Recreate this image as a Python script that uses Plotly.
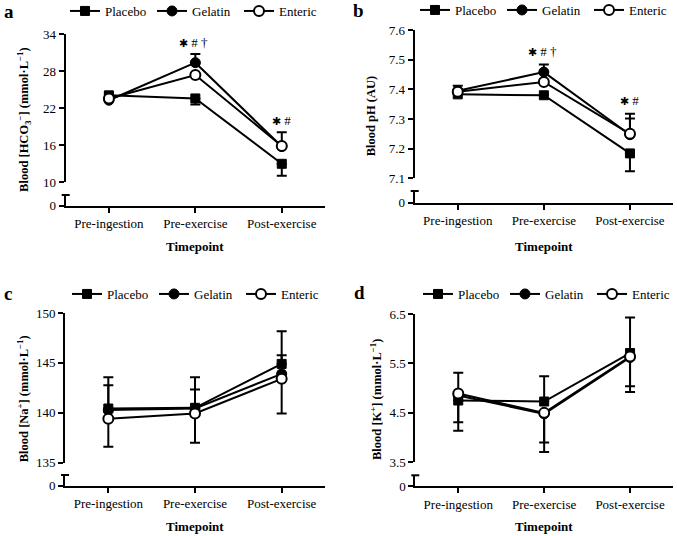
import plotly.graph_objects as go

W, H = 677, 536

timepoints = ["Pre-ingestion", "Pre-exercise", "Post-exercise"]
groups = ["Placebo", "Gelatin", "Enteric"]

# ---- Panel a: Blood [HCO3-] (mmol/L)
hco3_placebo = [24.1, 23.6, 13.0]
hco3_gelatin = [23.3, 29.4, 15.8]
hco3_enteric = [23.6, 27.4, 15.9]
hco3_placebo_up = [0.4, 0.0, 0.0]
hco3_placebo_dn = [0.0, 1.0, 1.95]
hco3_gelatin_up = [0.0, 1.4, 2.3]
hco3_gelatin_dn = [0.0, 0.0, 0.0]
hco3_enteric_up = [0.0, 0.0, 0.0]
hco3_enteric_dn = [0.0, 0.0, 0.0]

# ---- Panel b: Blood pH (AU)
ph_placebo = [7.383, 7.380, 7.184]
ph_gelatin = [7.395, 7.458, 7.247]
ph_enteric = [7.392, 7.425, 7.250]
ph_placebo_up = [0.0, 0.0, 0.0]
ph_placebo_dn = [0.0, 0.0, 0.06]
ph_gelatin_up = [0.017, 0.026, 0.055]
ph_gelatin_dn = [0.0, 0.0, 0.0]
ph_enteric_up = [0.0, 0.0, 0.068]
ph_enteric_dn = [0.0, 0.0, 0.0]

# ---- Panel c: Blood [Na+] (mmol/L)
na_placebo = [140.43, 140.5, 144.9]
na_gelatin = [140.27, 140.43, 143.9]
na_enteric = [139.4, 139.93, 143.4]
na_placebo_up = [3.14, 3.07, 3.27]
na_placebo_dn = [0.0, 0.0, 0.0]
na_gelatin_up = [2.5, 1.9, 1.87]
na_gelatin_dn = [0.0, 0.0, 0.0]
na_enteric_up = [0.0, 0.0, 0.0]
na_enteric_dn = [2.8, 2.93, 3.47]

# ---- Panel d: Blood [K+] (mmol/L)
k_placebo = [4.75, 4.73, 5.71]
k_gelatin = [4.85, 4.48, 5.62]
k_enteric = [4.89, 4.50, 5.64]
k_placebo_up = [0.56, 0.51, 0.72]
k_placebo_dn = [0.0, 0.0, 0.0]
k_gelatin_up = [0.0, 0.0, 0.0]
k_gelatin_dn = [0.54, 0.58, 0.58]
k_enteric_up = [0.0, 0.0, 0.0]
k_enteric_dn = [0.75, 0.79, 0.72]

# tick labels
hco3_ticks = [10, 16, 22, 28, 34]
ph_ticks = [7.1, 7.2, 7.3, 7.4, 7.5, 7.6]
na_ticks = [135, 140, 145, 150]
k_ticks = [3.5, 4.5, 5.5, 6.5]

FONT = "Liberation Serif"


def X(px):
    return px / W


def Y(py):
    return 1 - py / H


STAR = "<span style='font-size:11px'>✱</span>"

panels = [
    dict(letter="a", series=[hco3_placebo, hco3_gelatin, hco3_enteric],
         up=[hco3_placebo_up, hco3_gelatin_up, hco3_enteric_up],
         dn=[hco3_placebo_dn, hco3_gelatin_dn, hco3_enteric_dn],
         ticks=hco3_ticks, ticktext=[str(t) for t in hco3_ticks],
         ytitle="<b>Blood [HCO<sub>3</sub><sup>−</sup>] (mmol·L<sup>−1</sup>)</b>",
         ax0=65.7, ax1=325, ytop=34.3, ybot=182.3, cap=195, zero=205.5,
         letter_xy=(8.5, 11), leg_xy=(65, 11), ytitle_x=24, xtitle_y=247,
         sig=[(1, 32.67, STAR + " # †", -2), (2, 20.1, STAR + " #", 0)]),
    dict(letter="b", series=[ph_placebo, ph_gelatin, ph_enteric],
         up=[ph_placebo_up, ph_gelatin_up, ph_enteric_up],
         dn=[ph_placebo_dn, ph_gelatin_dn, ph_enteric_dn],
         ticks=ph_ticks, ticktext=["%.1f" % t for t in ph_ticks],
         ytitle="<b>Blood pH (AU)</b>",
         ax0=414.7, ax1=673, ytop=30, ybot=178.3, cap=191, zero=202.7,
         letter_xy=(358, 10), leg_xy=(415, 10), ytitle_x=371, xtitle_y=247,
         sig=[(1, 7.527, STAR + " # †", -1), (2, 7.364, STAR + " #", 0)]),
    dict(letter="c", series=[na_placebo, na_gelatin, na_enteric],
         up=[na_placebo_up, na_gelatin_up, na_enteric_up],
         dn=[na_placebo_dn, na_gelatin_dn, na_enteric_dn],
         ticks=na_ticks, ticktext=[str(t) for t in na_ticks],
         ytitle="<b>Blood [Na<sup>+</sup>] (mmol·L<sup>−1</sup>)</b>",
         ax0=65, ax1=325, ytop=313, ybot=462.7, cap=475, zero=485.5,
         letter_xy=(8, 293), leg_xy=(67, 294), ytitle_x=23, xtitle_y=526,
         sig=[]),
    dict(letter="d", series=[k_placebo, k_gelatin, k_enteric],
         up=[k_placebo_up, k_gelatin_up, k_enteric_up],
         dn=[k_placebo_dn, k_gelatin_dn, k_enteric_dn],
         ticks=k_ticks, ticktext=["%.1f" % t for t in k_ticks],
         ytitle="<b>Blood [K<sup>+</sup>] (mmol·L<sup>−1</sup>)</b>",
         ax0=415.3, ax1=673, ytop=314, ybot=462.3, cap=475.3, zero=486,
         letter_xy=(359, 292), leg_xy=(418, 294), ytitle_x=376, xtitle_y=526,
         sig=[]),
]

markers = [
    dict(symbol="square", size=9, color="black", line=dict(color="black", width=1)),
    dict(symbol="circle", size=10, color="black", line=dict(color="black", width=1)),
    dict(symbol="circle", size=10, color="white", line=dict(color="black", width=2)),
]

fig = go.Figure()
layout = dict(
    width=W, height=H, margin=dict(l=0, r=0, t=0, b=0, autoexpand=False),
    paper_bgcolor="white", plot_bgcolor="rgba(0,0,0,0)",
    font=dict(family=FONT, size=13, color="black"),
    annotations=[], shapes=[],
)

for i, p in enumerate(panels):
    xn = "" if i == 0 else str(i + 1)
    ymain = str(2 * i + 1) if i > 0 else ""
    ylow = str(2 * i + 2)
    legname = "legend" if i == 0 else "legend%d" % (i + 1)

    # empty helper trace so the lower (broken) axis segment is drawn
    fig.add_trace(go.Scatter(x=[], y=[], xaxis="x" + xn, yaxis="y" + ylow,
                             showlegend=False, hoverinfo="skip"))

    for s in range(3):
        fig.add_trace(go.Scatter(
            x=timepoints, y=p["series"][s], name=groups[s],
            mode="lines+markers",
            line=dict(color="black", width=2),
            marker=markers[s],
            error_y=dict(type="data", symmetric=False, array=p["up"][s],
                         arrayminus=p["dn"][s], color="black",
                         thickness=2, width=5),
            xaxis="x" + xn, yaxis="y" + ymain, legend=legname,
            showlegend=True,
        ))

    lo, hi = p["ticks"][0], p["ticks"][-1]
    layout["xaxis" + xn] = dict(
        domain=[X(p["ax0"]), X(p["ax1"])], range=[-0.5, 2.5],
        type="category", anchor="y" + ylow, categoryorder="array",
        categoryarray=timepoints,
        showline=True, linewidth=2, linecolor="black",
        ticks="outside", ticklen=5, tickwidth=2, tickcolor="black",
        showgrid=False, zeroline=False,
        tickfont=dict(family=FONT, size=13),
    )
    layout["yaxis" + ymain] = dict(
        domain=[Y(p["ybot"]), Y(p["ytop"])], range=[lo, hi],
        anchor="x" + xn, tickvals=p["ticks"], ticktext=p["ticktext"],
        showline=True, linewidth=2, linecolor="black",
        ticks="outside", ticklen=5, tickwidth=2, tickcolor="black",
        showgrid=False, zeroline=False,
        tickfont=dict(family=FONT, size=13),
    )
    layout["yaxis" + ylow] = dict(
        domain=[Y(p["zero"]), Y(p["cap"])], range=[0, 1],
        anchor="x" + xn, tickvals=[0], ticktext=["0"],
        showline=True, linewidth=2, linecolor="black",
        ticks="outside", ticklen=5, tickwidth=2, tickcolor="black",
        showgrid=False, zeroline=False,
        tickfont=dict(family=FONT, size=13),
    )
    # axis break cap
    layout["shapes"].append(dict(
        type="line", xref="paper", yref="paper",
        x0=X(p["ax0"] - 4), x1=X(p["ax0"] + 4),
        y0=Y(p["cap"]), y1=Y(p["cap"]),
        line=dict(color="black", width=2),
    ))
    layout[legname] = dict(
        orientation="h", x=X(p["leg_xy"][0]), y=Y(p["leg_xy"][1]),
        xanchor="left", yanchor="middle", bgcolor="rgba(0,0,0,0)",
        font=dict(family=FONT, size=13), entrywidth=42, entrywidthmode="pixels",
        traceorder="normal",
    )
    # panel letter
    layout["annotations"].append(dict(
        text="<b>%s</b>" % p["letter"], xref="paper", yref="paper",
        x=X(p["letter_xy"][0]), y=Y(p["letter_xy"][1]),
        xanchor="center", yanchor="middle", showarrow=False,
        font=dict(family=FONT, size=19),
    ))
    # y title
    layout["annotations"].append(dict(
        text=p["ytitle"], xref="paper", yref="paper", textangle=-90,
        x=X(p["ytitle_x"]), y=Y((p["ytop"] + p["zero"]) / 2),
        xanchor="center", yanchor="middle", showarrow=False,
        font=dict(family=FONT, size=12.5),
    ))
    # x title
    layout["annotations"].append(dict(
        text="<b>Timepoint</b>", xref="paper", yref="paper",
        x=X((p["ax0"] + p["ax1"]) / 2), y=Y(p["xtitle_y"]),
        xanchor="center", yanchor="middle", showarrow=False,
        font=dict(family=FONT, size=13),
    ))
    for (xi, yv, txt, sh) in p["sig"]:
        layout["annotations"].append(dict(
            text=txt, xref="x" + xn, yref="y" + ymain,
            x=timepoints[xi], y=yv, xshift=sh,
            xanchor="center", yanchor="middle", showarrow=False,
            font=dict(family=FONT, size=13),
        ))

fig.update_layout(**layout)
fig.write_html("out.html", config={"displayModeBar": False},
               post_script="document.body.style.margin='0';")
